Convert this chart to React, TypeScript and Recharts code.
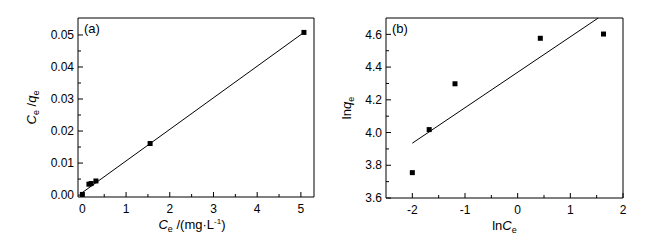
import React from 'react'
import { ScatterChart, Scatter, XAxis, YAxis, ReferenceArea } from 'recharts'

// panel (a): Ce/qe vs Ce
const ceA = [0.0, 0.15, 0.2, 0.31, 1.55, 5.07]
const ceQeA = [0.0002, 0.0034, 0.0036, 0.0044, 0.0161, 0.0508]
const fitXA = [0, 5.07]
const fitYA = [0.0008, 0.0508]

// panel (b): ln qe vs ln Ce
const lnCeB = [-2.0, -1.68, -1.19, 0.43, 1.63]
const lnQeB = [3.755, 4.018, 4.298, 4.576, 4.602]
const fitXB = [-2.0, 1.53]
const fitYB = [3.935, 4.7]

// ticks
const xMajorA = [0, 1, 2, 3, 4, 5]
const xMinorA = [0.5, 1.5, 2.5, 3.5, 4.5]
const yMajorA = [0, 0.01, 0.02, 0.03, 0.04, 0.05]
const yMinorA = [0.005, 0.015, 0.025, 0.035, 0.045]
const xMajorB = [-2, -1, 0, 1, 2]
const xMinorB = [-1.5, -0.5, 0.5, 1.5]
const yMajorB = [3.6, 3.8, 4.0, 4.2, 4.4, 4.6]
const yMinorB = [3.7, 3.9, 4.1, 4.3, 4.5]

const font = '"Liberation Sans", Arial, sans-serif'
const ink = '#000'

const Square = (p: any) => (
  <rect x={p.cx - 2.5} y={p.cy - 2.5} width={5} height={5} fill={ink} />
)
const NoDot = () => <g />

const makeYTick = (majors: number[], fmt: (v: number) => string) => (props: any) => {
  const { x, y, payload } = props
  const major = majors.includes(payload.value)
  const edge = x + 4
  return (
    <g>
      <line x1={edge} x2={edge + (major ? 5 : 3)} y1={y} y2={y} stroke={ink} strokeWidth={1} />
      {major && (
        <text x={x} y={y} dy="0.35em" textAnchor="end" fontSize={12} fontFamily={font} fill={ink}>
          {fmt(payload.value)}
        </text>
      )}
    </g>
  )
}

const makeXTick = (majors: number[], fmt: (v: number) => string) => (props: any) => {
  const { x, y, payload } = props
  const major = majors.includes(payload.value)
  const edge = y - 7
  return (
    <g>
      <line x1={x} x2={x} y1={edge} y2={edge - (major ? 5 : 3)} stroke={ink} strokeWidth={1} />
      {major && (
        <text x={x} y={y} dy="0.71em" textAnchor="middle" fontSize={12} fontFamily={font} fill={ink}>
          {fmt(payload.value)}
        </text>
      )}
    </g>
  )
}

const PanelA = () => {
  const pts = ceA.map((x, i) => ({ x, y: ceQeA[i] }))
  const fit = fitXA.map((x, i) => ({ x, y: fitYA[i] }))
  const xDom: [number, number] = [-0.1, 5.3]
  const yDom: [number, number] = [-0.0006, 0.0553]
  return (
    <ScatterChart width={330} height={244} margin={{ top: 18, right: 16, bottom: 0, left: 0 }}>
      <XAxis
        type="number"
        dataKey="x"
        domain={xDom}
        allowDataOverflow
        ticks={[...xMajorA, ...xMinorA]}
        interval={0}
        height={47}
        tickSize={0}
        tickMargin={7}
        tickLine={false}
        axisLine={false}
        tick={makeXTick(xMajorA, (v) => String(v))}
        label={{
          content: (p: any) => {
            const vb = p.viewBox
            return (
              <text x={vb.x + vb.width / 2 - 4} y={vb.y + 32} textAnchor="middle" fontSize={13} fontFamily={font} fill={ink}>
                <tspan fontStyle="italic">C</tspan>
                <tspan fontSize={9} dy={3}>e</tspan>
                <tspan dy={-3}> /(mg·L</tspan>
                <tspan fontSize={8} dy={-5}>-1</tspan>
                <tspan dy={5}>)</tspan>
              </text>
            )
          },
        }}
      />
      <YAxis
        type="number"
        dataKey="y"
        domain={yDom}
        allowDataOverflow
        ticks={[...yMajorA, ...yMinorA]}
        interval={0}
        width={78}
        tickSize={0}
        tickMargin={4}
        tickLine={false}
        axisLine={false}
        tick={makeYTick(yMajorA, (v) => v.toFixed(2))}
        label={{
          content: (p: any) => {
            const vb = p.viewBox
            const cx = vb.x + 36
            const cy = vb.y + vb.height / 2
            return (
              <text x={cx} y={cy} transform={`rotate(-90, ${cx}, ${cy})`} textAnchor="middle" fontSize={13} fontFamily={font} fill={ink}>
                <tspan fontStyle="italic">C</tspan>
                <tspan fontSize={9} dy={3}>e</tspan>
                <tspan dy={-3}> /</tspan>
                <tspan fontStyle="italic">q</tspan>
                <tspan fontSize={9} dy={3}>e</tspan>
              </text>
            )
          },
        }}
      />
      <ReferenceArea
        x1={xDom[0]}
        x2={xDom[1]}
        y1={yDom[0]}
        y2={yDom[1]}
        fill="none"
        stroke={ink}
        strokeWidth={1}
        label={{ value: '(a)', position: 'insideTopLeft', offset: 6, fontSize: 13, fontFamily: font, fill: ink }}
      />
      <Scatter data={fit} line={{ stroke: ink, strokeWidth: 1 }} shape={NoDot} isAnimationActive={false} />
      <Scatter data={pts} shape={Square} isAnimationActive={false} />
    </ScatterChart>
  )
}

const PanelB = () => {
  const pts = lnCeB.map((x, i) => ({ x, y: lnQeB[i] }))
  const fit = fitXB.map((x, i) => ({ x, y: fitYB[i] }))
  const xDom: [number, number] = [-2.5, 2]
  const yDom: [number, number] = [3.6, 4.7]
  return (
    <ScatterChart width={329} height={244} margin={{ top: 18, right: 26, bottom: 0, left: 0 }}>
      <XAxis
        type="number"
        dataKey="x"
        domain={xDom}
        allowDataOverflow
        ticks={[...xMajorB, ...xMinorB]}
        interval={0}
        height={46}
        tickSize={0}
        tickMargin={7}
        tickLine={false}
        axisLine={false}
        tick={makeXTick(xMajorB, (v) => String(v))}
        label={{
          content: (p: any) => {
            const vb = p.viewBox
            return (
              <text x={vb.x + vb.width / 2} y={vb.y + 32} textAnchor="middle" fontSize={13} fontFamily={font} fill={ink}>
                <tspan>ln</tspan>
                <tspan fontStyle="italic">C</tspan>
                <tspan fontSize={9} dy={3}>e</tspan>
              </text>
            )
          },
        }}
      />
      <YAxis
        type="number"
        dataKey="y"
        domain={yDom}
        allowDataOverflow
        ticks={[...yMajorB, ...yMinorB]}
        interval={0}
        width={66}
        tickSize={0}
        tickMargin={4}
        tickLine={false}
        axisLine={false}
        tick={makeYTick(yMajorB, (v) => v.toFixed(1))}
        label={{
          content: (p: any) => {
            const vb = p.viewBox
            const cx = vb.x + 31
            const cy = vb.y + vb.height / 2
            return (
              <text x={cx} y={cy} transform={`rotate(-90, ${cx}, ${cy})`} textAnchor="middle" fontSize={13} fontFamily={font} fill={ink}>
                <tspan>ln</tspan>
                <tspan fontStyle="italic">q</tspan>
                <tspan fontSize={9} dy={3}>e</tspan>
              </text>
            )
          },
        }}
      />
      <ReferenceArea
        x1={xDom[0]}
        x2={xDom[1]}
        y1={yDom[0]}
        y2={yDom[1]}
        fill="none"
        stroke={ink}
        strokeWidth={1}
        label={{ value: '(b)', position: 'insideTopLeft', offset: 6, fontSize: 13, fontFamily: font, fill: ink }}
      />
      <Scatter data={fit} line={{ stroke: ink, strokeWidth: 1 }} shape={NoDot} isAnimationActive={false} />
      <Scatter data={pts} shape={Square} isAnimationActive={false} />
    </ScatterChart>
  )
}

export default function App() {
  return (
    <div style={{ position: 'absolute', left: 0, top: 0, width: 649, height: 244, background: '#fff', display: 'flex' }}>
      <div style={{ width: 320, height: 244, position: 'relative' }}>
        <PanelA />
      </div>
      <div style={{ width: 329, height: 244 }}>
        <PanelB />
      </div>
    </div>
  )
}
